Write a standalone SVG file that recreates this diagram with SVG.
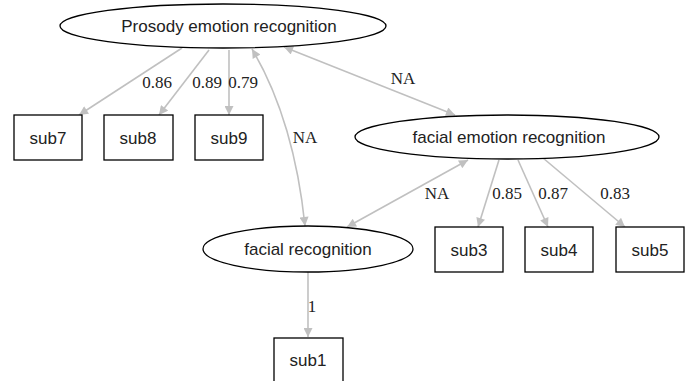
<svg xmlns="http://www.w3.org/2000/svg" width="693" height="381" viewBox="0 0 693 381">
<style>
.node ellipse,.node rect{fill:#fff;stroke:#000;stroke-width:1.3}
.node text{font-family:"Liberation Sans",Arial,sans-serif;font-size:17px;fill:#222;text-anchor:middle}
.edges path{fill:none;stroke:#c0c0c0;stroke-width:1.6}
.lbl{font-family:"Liberation Serif","Times New Roman",serif;font-size:17px;fill:#222;text-anchor:middle}
</style>
<defs>
<marker id="ah" viewBox="0 0 10 10" refX="10" refY="5" markerWidth="11" markerHeight="9" markerUnits="userSpaceOnUse" orient="auto-start-reverse">
<path d="M0,0 L10,5 L0,10 z" fill="#c0c0c0"/>
</marker>
</defs>
<rect width="693" height="381" fill="#fff"/>
<g class="edges">
<path d="M182,48 L79,115" marker-end="url(#ah)"/>
<path d="M209,50 L159,115" marker-end="url(#ah)"/>
<path d="M229,50 L229,115" marker-end="url(#ah)"/>
<path d="M252,49 Q294,120 305,226" marker-start="url(#ah)" marker-end="url(#ah)"/>
<path d="M284,47 L455,115" marker-start="url(#ah)" marker-end="url(#ah)"/>
<path d="M468,160 L347,227" marker-start="url(#ah)" marker-end="url(#ah)"/>
<path d="M499,160 L478,227" marker-end="url(#ah)"/>
<path d="M518,160 L548,227" marker-end="url(#ah)"/>
<path d="M543,158 L625,227" marker-end="url(#ah)"/>
<path d="M308,272 L308,337" marker-end="url(#ah)"/>
<text class="lbl" x="157" y="88">0.86</text>
<text class="lbl" x="207" y="88">0.89</text>
<text class="lbl" x="243" y="88">0.79</text>
<text class="lbl" x="305" y="143">NA</text>
<text class="lbl" x="403" y="84">NA</text>
<text class="lbl" x="437" y="199">NA</text>
<text class="lbl" x="507" y="199">0.85</text>
<text class="lbl" x="553" y="199">0.87</text>
<text class="lbl" x="615" y="199">0.83</text>
<text class="lbl" x="312" y="312">1</text>
</g>
<g id="prosody" class="node"><ellipse cx="223" cy="26" rx="163" ry="22"/><text x="229" y="32">Prosody emotion recognition</text></g>
<g id="facialEmotion" class="node"><ellipse cx="507" cy="137" rx="152" ry="22"/><text x="509" y="143">facial emotion recognition</text></g>
<g id="facialRecognition" class="node"><ellipse cx="308" cy="249" rx="105" ry="23"/><text x="308" y="255">facial recognition</text></g>
<g id="sub7" class="node"><rect x="14" y="115" width="68" height="45"/><text x="48" y="144">sub7</text></g>
<g id="sub8" class="node"><rect x="104" y="115" width="69" height="45"/><text x="138" y="144">sub8</text></g>
<g id="sub9" class="node"><rect x="195" y="115" width="68" height="45"/><text x="229" y="144">sub9</text></g>
<g id="sub3" class="node"><rect x="435" y="227" width="68" height="45"/><text x="469" y="256">sub3</text></g>
<g id="sub4" class="node"><rect x="525" y="227" width="68" height="45"/><text x="559" y="256">sub4</text></g>
<g id="sub5" class="node"><rect x="616" y="227" width="68" height="45"/><text x="650" y="256">sub5</text></g>
<g id="sub1" class="node"><rect x="274" y="338" width="69" height="45"/><text x="308" y="366">sub1</text></g>
</svg>
